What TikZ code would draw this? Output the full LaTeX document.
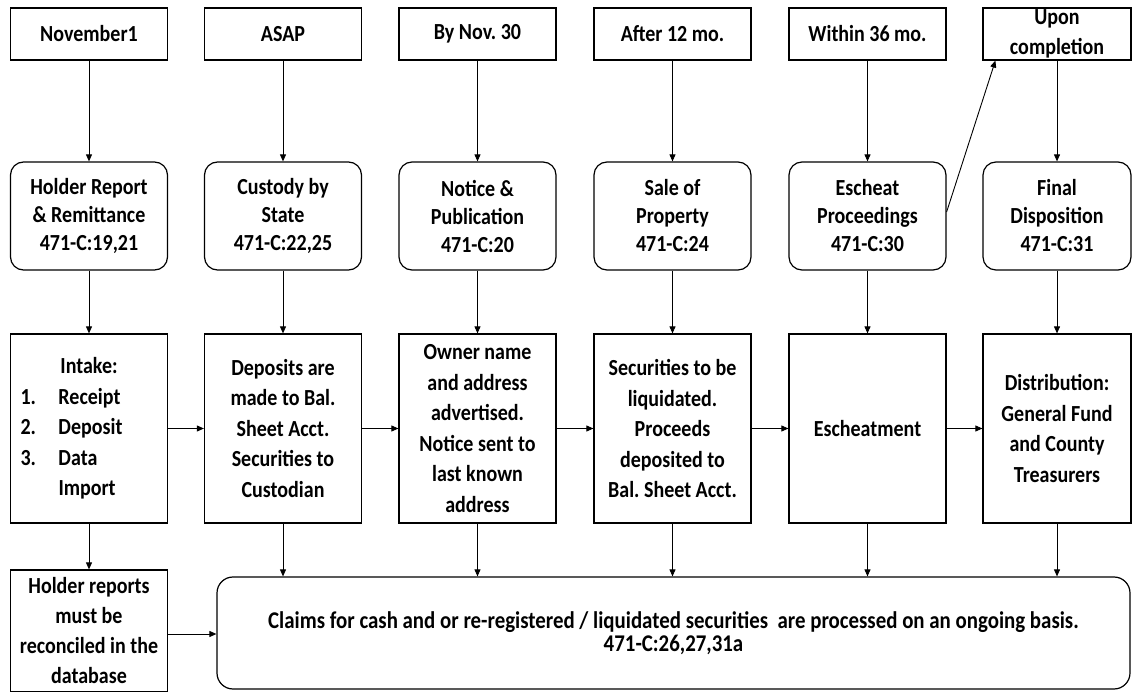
\documentclass[tikz,border=0pt]{standalone}
\usepackage{fontspec}
\setmainfont{Carlito}[FakeStretch=0.87]
\usetikzlibrary{arrows.meta}
\begin{document}
\frenchspacing
\begin{tikzpicture}[x=1pt,y=-1pt,
  box/.style={draw,line width=1.2pt,inner sep=0pt,align=center,font=\fontsize{23}{28}\selectfont\bfseries},
  timebox/.style={box,minimum width=157pt,minimum height=52pt},
  stagebox/.style={box,rounded corners=13pt,minimum width=157pt,minimum height=108pt},
  actbox/.style={box,minimum width=157pt,minimum height=189pt,font=\fontsize{23}{30.5}\selectfont\bfseries},
  arr/.style={draw,line width=0.9pt,-{Triangle[length=7pt,width=6pt]}}]
\useasboundingbox (0,0) rectangle (1133,692);
\fill[white] (0,0) rectangle (1133,692);
% top row
\node[timebox] (t1) at (89,34) {November1};
\node[timebox] (t2) at (283,34) {ASAP};
\node[timebox] (t3) at (477.5,34) {By Nov. 30};
\node[timebox] (t4) at (672.5,34) {After 12 mo.};
\node[timebox] (t5) at (867.5,34) {Within 36 mo.};
\node[timebox,minimum width=148pt,font=\fontsize{23}{30}\selectfont\bfseries] (t6) at (1057,34) {Upon\\completion};
% second row
\node[stagebox] (s1) at (89,216) {Holder Report\\\& Remittance\\471-C:19,21};
\node[stagebox] (s2) at (283,216) {Custody by\\State\\471-C:22,25};
\node[stagebox] (s3) at (477.5,216) {Notice \&\\Publication\\471-C:20};
\node[stagebox] (s4) at (672.5,216) {Sale of\\Property\\471-C:24};
\node[stagebox] (s5) at (867.5,216) {Escheat\\Proceedings\\471-C:30};
\node[stagebox,minimum width=148pt] (s6) at (1057,216) {Final\\Disposition\\471-C:31};
% third row
\node[actbox] (a1) at (89,428.5) {\begin{minipage}{157pt}\centering Intake:\par\raggedright
\hspace*{10pt}\makebox[38pt][l]{1.}Receipt\par
\hspace*{10pt}\makebox[38pt][l]{2.}Deposit\par
\hspace*{10pt}\makebox[38pt][l]{3.}Data\par
\hspace*{48pt}Import\end{minipage}};
\node[actbox] (a2) at (283,428.5) {Deposits are\\made to Bal.\\Sheet Acct.\\Securities to\\Custodian};
\node[actbox] (a3) at (477.5,428.5) {Owner name\\and address\\advertised.\\Notice sent to\\last known\\address};
\node[actbox] (a4) at (672.5,428.5) {Securities to be\\liquidated.\\Proceeds\\deposited to\\Bal. Sheet Acct.};
\node[actbox] (a5) at (867.5,428.5) {Escheatment};
\node[actbox,minimum width=148pt] (a6) at (1057,428.5) {Distribution:\\General Fund\\and County\\Treasurers};
% bottom row
\node[box,minimum width=157pt,minimum height=122pt,font=\fontsize{23}{30}\selectfont\bfseries] (hold) at (89,631) {Holder reports\\must be\\reconciled in the\\database};
\node[box,rounded corners=16pt,minimum width=913pt,minimum height=112pt,font=\fontsize{24}{23}\selectfont\bfseries] (claims) at (673.5,633) {Claims for cash and or re-registered / liquidated securities\ \ are processed on an ongoing basis.\\471-C:26,27,31a};
% connectors
\foreach \i in {1,...,6}{
  \draw[arr] (t\i.south) -- (s\i.north);
  \draw[arr] (s\i.south) -- (a\i.north);
}
\foreach \i/\j in {1/2,2/3,3/4,4/5,5/6}{
  \draw[arr] (a\i.east) -- (a\j.west);
}
\foreach \i in {2,...,6}{
  \draw[arr] (a\i.south) -- (a\i.south |- claims.north);
}
\draw[arr] (a1.south) -- (hold.north);
\draw[arr] (hold.east |- 0,634) -- (claims.west |- 0,634);
\draw[arr] ([yshift=4pt]s5.east) -- ([xshift=13pt]t6.south west);
\end{tikzpicture}
\end{document}
